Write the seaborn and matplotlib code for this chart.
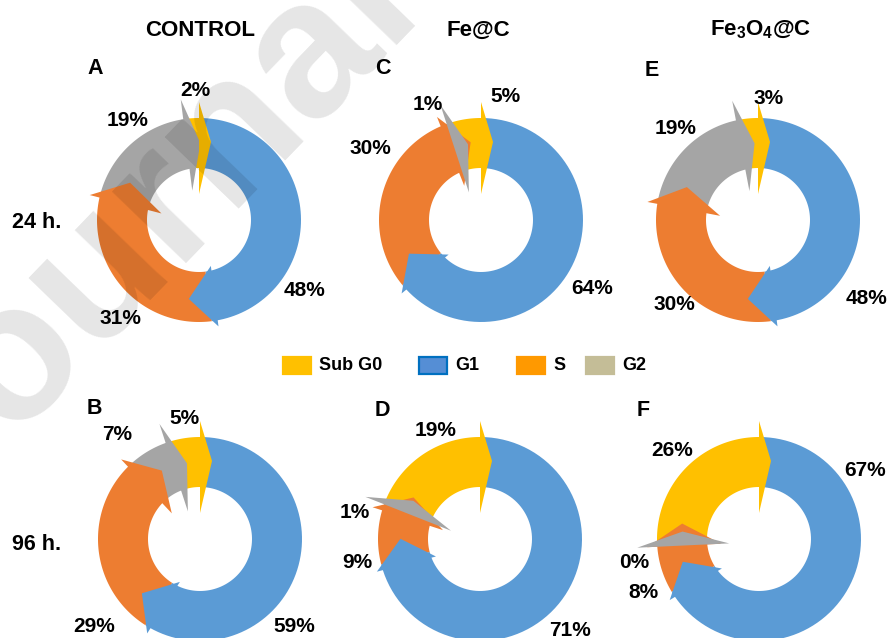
import numpy as np
import matplotlib
matplotlib.use("Agg")
import matplotlib.pyplot as plt
from matplotlib.patches import Polygon, Rectangle
import seaborn as sns

# ---------------- data ----------------
phases = ["Sub G0", "G1", "S", "G2"]
panel_ids = ["A", "B", "C", "D", "E", "F"]
treatments = ["CONTROL", "Fe@C", r"Fe$_\mathrm{3}$O$_\mathrm{4}$@C"]
times = ["24 h.", "96 h."]

# cell-cycle percentages for panels A..F
sub_g0 = [2, 5, 5, 19, 3, 26]
g1 = [48, 59, 64, 71, 48, 67]
s_phase = [31, 29, 30, 9, 30, 8]
g2 = [19, 7, 1, 1, 19, 0]

# ---------------- style ----------------
sns.set_theme(style="white")
plt.rcParams["font.family"] = ["Liberation Sans", "DejaVu Sans"]
plt.rcParams["text.color"] = "black"
plt.rcParams["mathtext.fontset"] = "custom"
plt.rcParams["mathtext.rm"] = "Liberation Sans:bold"

ring_colors = dict(zip(phases, sns.color_palette(["#FFC000", "#5B9BD5", "#ED7D31", "#A5A5A5"])))
legend_fill = ["#FFC000", "#558ED5", "#FF9900", "#C4BD97"]
legend_edge = ["#FFC000", "#0070C0", "#FF9900", "#C4BD97"]

W, H = 891, 638
R_OUT, R_IN = 102, 52

# donut centres (pixels) and label offsets (pixels, per phase order Sub G0, G1, S, G2)
centres = {"A": (199, 220), "B": (200, 539), "C": (481, 220),
           "D": (480, 539), "E": (758, 220), "F": (759, 539)}
label_offsets = {
    "A": [(-4, -130), (106, 70), (-79, 99), (-71, -100)],
    "B": [(-16, -120), (94, 88), (-106, 88), (-83, -105)],
    "C": [(24, -123), (111, 68), (-111, -72), (-53, -116)],
    "D": [(-44, -108), (90, 91), (-123, 23), (-125, -27)],
    "E": [(11, -122), (108, 78), (-84, 84), (-82, -91)],
    "F": [(-87, -88), (106, -69), (-116, 54), (-125, 24)],
}
letter_pos = {"A": (87, 68), "B": (87, 408), "C": (375, 68),
              "D": (375, 411), "E": (645, 70), "F": (637, 410)}

# arrow-head geometry per phase (Sub G0, G1, S, G2)
head_back = [0, -6, -3, -3]      # base offset along the tangent
head_len = [12, 26, 22, 14]      # tip distance beyond base
head_lo = [26, 47, 38, 30]
head_hi = [118, 108, 112, 122]
head_mid = [78, 77, 76, 76]


def arc(cx, cy, r, t0, t1, n=80):
    th = np.radians(np.linspace(t0, t1, n))
    return np.column_stack([cx + r * np.sin(th), cy - r * np.cos(th)])


fig = plt.figure(figsize=(W / 100, H / 100), dpi=100)
ax = fig.add_axes([0, 0, 1, 1])
ax.set_xlim(0, W)
ax.set_ylim(H, 0)
ax.set_aspect("equal")
ax.axis("off")

table = np.array([sub_g0, g1, s_phase, g2], dtype=float)  # phases x panels
draw_order = [1, 2, 3, 0]  # clockwise from 12 o'clock: G1, S, G2, Sub G0

for p, pid in enumerate(panel_ids):
    cx, cy = centres[pid]
    vals = table[:, p]
    fracs = vals / vals.sum() * 360.0
    ends = {}
    start = 0.0
    for k in draw_order:
        end = start + fracs[k]
        if fracs[k] > 0:
            body = np.vstack([arc(cx, cy, R_OUT, start, end), arc(cx, cy, R_IN, end, start)])
            ax.add_patch(Polygon(body, closed=True, fc=ring_colors[phases[k]], ec="none", zorder=2))
        ends[k] = end
        start = end
    for k in draw_order:
        e = np.radians(ends[k])
        t = np.array([np.cos(e), np.sin(e)])
        u = np.array([np.sin(e), -np.cos(e)])
        c = np.array([cx, cy])
        b = head_back[k]
        pts = [c + head_lo[k] * u + b * t,
               c + head_hi[k] * u + b * t,
               c + head_mid[k] * u + (b + head_len[k]) * t]
        ax.add_patch(Polygon(pts, closed=True, fc=ring_colors[phases[k]], ec="none", zorder=3))
    for k in range(4):
        dx, dy = label_offsets[pid][k]
        ax.text(cx + dx, cy + dy, f"{int(vals[k])}%", ha="center", va="center",
                fontsize=15, fontweight="bold", color="black", zorder=5)
    lx, ly = letter_pos[pid]
    ax.text(lx, ly, pid, ha="left", va="center", fontsize=15.5, fontweight="bold", zorder=5)

# column titles and row labels
for x, name in zip([200, 478, 761], treatments):
    ax.text(x, 30, name, ha="center", va="center", fontsize=16, fontweight="bold", zorder=5)
for y, name in zip([222, 544], times):
    ax.text(12, y, name, ha="left", va="center", fontsize=15.5, fontweight="bold", zorder=5)

# legend row
legend_x = [283, 419, 517, 586]
for x, name, fc, ec in zip(legend_x, phases, legend_fill, legend_edge):
    ax.add_patch(Rectangle((x, 357), 28, 17, fc=fc, ec=ec, lw=1.6, zorder=4))
    ax.text(x + 36, 366, name, ha="left", va="center", fontsize=13, fontweight="bold", zorder=5)

# translucent diagonal watermark
ax.text(-63, 521, "Journal Pre-proof", rotation=46, rotation_mode="anchor",
        ha="left", va="baseline", fontsize=140, fontweight="bold",
        color="black", alpha=0.1, zorder=10)

fig.savefig("out.png", dpi=100)
